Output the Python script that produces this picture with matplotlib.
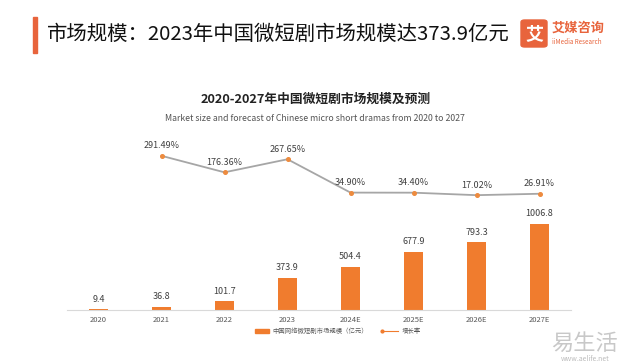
import matplotlib.pyplot as plt
from matplotlib.patches import Rectangle, FancyBboxPatch

plt.rcParams["font.family"] = ["Noto Sans CJK SC", "DejaVu Sans"]

# データ
years = ["2020", "2021", "2022", "2023", "2024E", "2025E", "2026E", "2027E"]
market_size = [9.4, 36.8, 101.7, 373.9, 504.4, 677.9, 793.3, 1006.8]
growth_years = ["2021", "2022", "2023", "2024E", "2025E", "2026E", "2027E"]
growth_rate = [291.49, 176.36, 267.65, 34.90, 34.40, 17.02, 26.91]

BAR_COLOR = "#F07C2E"
LINE_COLOR = "#A6A6A6"
TEXT_COLOR = "#404040"

fig = plt.figure(figsize=(6.18, 3.64), dpi=100)
W, H = 618, 364


def fx(px):
    return px / W


def fy(py):
    return 1 - py / H


# ヘッダー
fig.patches.append(Rectangle((fx(33), fy(53)), fx(4), (53 - 17) / H,
                             transform=fig.transFigure, color="#E8643C"))
fig.text(fx(47), fy(34), "市场规模：2023年中国微短剧市场规模达373.9亿元",
         fontsize=14.7, color="#111111", va="center")

# ロゴ
fig.patches.append(FancyBboxPatch((fx(521), fy(47)), fx(26), 27 / H,
                                  boxstyle="round,pad=0,rounding_size=0.006",
                                  transform=fig.transFigure, color="#E8643C"))
fig.text(fx(534), fy(34), "艾", fontsize=13, fontweight="bold", color="white",
         ha="center", va="center")
fig.text(fx(552), fy(28), "艾媒咨询", fontsize=9.5, fontweight="bold",
         color="#E8643C", va="center")
fig.text(fx(552), fy(42), "iiMedia Research", fontsize=4.5, color="#E8643C",
         va="center")

# グラフタイトル
fig.text(fx(316), fy(99), "2020-2027年中国微短剧市场规模及预测",
         fontsize=9.2, fontweight="bold", color="#222222", ha="center", va="center")
fig.text(fx(315), fy(119),
         "Market size and forecast of Chinese micro short dramas from 2020 to 2027",
         fontsize=6.3, color="#555555", ha="center", va="center")

# 棒グラフ
ax = fig.add_axes([fx(67), fy(310), fx(571 - 67), (310 - 145) / H])
x = list(range(len(years)))
bars = ax.bar(x, market_size, width=0.31, color=BAR_COLOR, zorder=2)
for xi, v in zip(x, market_size):
    ax.annotate(f"{v}", (xi, v), xytext=(0, 4), textcoords="offset points",
                ha="center", va="bottom", fontsize=6.5, color=TEXT_COLOR)
ax.set_xlim(-0.5, len(years) - 0.5)
ax.set_ylim(0, 1930)
ax.set_xticks(x)
ax.set_xticklabels(years, fontsize=5.5, color="#595959")
ax.tick_params(axis="x", length=0, pad=4)
ax.set_yticks([])
for s in ["top", "right", "left"]:
    ax.spines[s].set_visible(False)
ax.spines["bottom"].set_color("#D9D9D9")
ax.spines["bottom"].set_linewidth(0.8)

# 折れ線グラフ (増長率)
ax2 = ax.twinx()
gx = [years.index(g) for g in growth_years]
ax2.plot(gx, growth_rate, color=LINE_COLOR, linewidth=1.3, marker="o",
         markersize=2.6, markerfacecolor="#ED8B3F", markeredgecolor="#ED8B3F",
         zorder=3)
for xi, v in zip(gx, growth_rate):
    ax2.annotate(f"{v:.2f}%", (xi, v), xytext=(0, 4), textcoords="offset points",
                 ha="center", va="bottom", fontsize=6.5, color=TEXT_COLOR)
ax2.set_ylim(-784, 367)
ax2.set_yticks([])
for s in ["top", "right", "left", "bottom"]:
    ax2.spines[s].set_visible(False)

# 凡例
fig.patches.append(Rectangle((fx(255), fy(333)), fx(14), 4 / H,
                             transform=fig.transFigure, color=BAR_COLOR))
fig.text(fx(272), fy(331), "中国网络微短剧市场规模（亿元）", fontsize=4.6,
         color="#595959", va="center")
fig.lines.append(plt.Line2D([fx(382), fx(398)], [fy(331), fy(331)],
                            transform=fig.transFigure, color=BAR_COLOR,
                            linewidth=0.8, marker="o", markersize=2,
                            markevery=[0], markeredgecolor=BAR_COLOR))
fig.text(fx(402), fy(331), "增长率", fontsize=4.6, color="#595959", va="center")

# 透かし
fig.text(fx(585), fy(343), "易生活", fontsize=16, color="#C8C8C8",
         ha="center", va="center")
fig.text(fx(585), fy(359), "www.aelife.net", fontsize=5, color="#BBBBBB",
         ha="center", va="center")

plt.savefig("out.png", dpi=100)
